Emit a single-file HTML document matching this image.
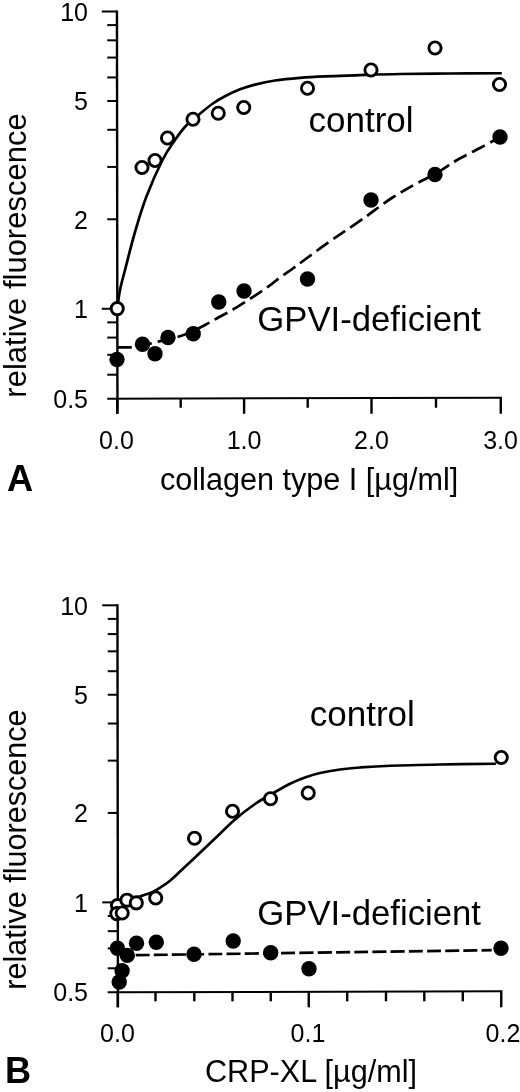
<!DOCTYPE html>
<html><head><meta charset="utf-8"><title>Figure</title>
<style>html,body{margin:0;padding:0;background:#fff}svg{display:block;filter:blur(0.45px)}text{font-family:"Liberation Sans",Arial,Helvetica,sans-serif;fill:#000}</style>
</head><body>
<svg width="520" height="1092" viewBox="0 0 520 1092">
<rect width="520" height="1092" fill="#fff"/>
<g id="panelA">
<path d="M116.95,10.5 L117.45,413.75" stroke="#000" stroke-width="2.4" fill="none"/>
<path d="M107.25,398.7 L501.95,397.8" stroke="#000" stroke-width="2.0" fill="none"/>
<path d="M101.75,11.50 H117.25" stroke="#000" stroke-width="2.0"/>
<path d="M101.75,308.76 H117.25" stroke="#000" stroke-width="2.0"/>
<path d="M107.25,25.10 H117.25" stroke="#000" stroke-width="2.0"/>
<path d="M107.25,40.31 H117.25" stroke="#000" stroke-width="2.0"/>
<path d="M107.25,57.55 H117.25" stroke="#000" stroke-width="2.0"/>
<path d="M107.25,77.45 H117.25" stroke="#000" stroke-width="2.0"/>
<path d="M107.25,100.99 H117.25" stroke="#000" stroke-width="2.0"/>
<path d="M107.25,129.79 H117.25" stroke="#000" stroke-width="2.0"/>
<path d="M107.25,166.93 H117.25" stroke="#000" stroke-width="2.0"/>
<path d="M107.25,219.28 H117.25" stroke="#000" stroke-width="2.0"/>
<path d="M107.25,322.37 H117.25" stroke="#000" stroke-width="2.0"/>
<path d="M107.25,337.57 H117.25" stroke="#000" stroke-width="2.0"/>
<path d="M107.25,354.81 H117.25" stroke="#000" stroke-width="2.0"/>
<path d="M107.25,374.71 H117.25" stroke="#000" stroke-width="2.0"/>
<path d="M117.25,398.25 V413.75" stroke="#000" stroke-width="2.4"/>
<path d="M244.1,398.25 V413.75" stroke="#000" stroke-width="2.4"/>
<path d="M371.5,398.25 V413.75" stroke="#000" stroke-width="2.4"/>
<path d="M500.75,398.25 V413.75" stroke="#000" stroke-width="2.4"/>
<path d="M180.7,398.25 V407.75" stroke="#000" stroke-width="2.4"/>
<path d="M307.7,398.25 V407.75" stroke="#000" stroke-width="2.4"/>
<path d="M436,398.25 V407.75" stroke="#000" stroke-width="2.4"/>
<text x="88" y="20.80" font-size="25" text-anchor="end">10</text>
<text x="88" y="110.29" font-size="25" text-anchor="end">5</text>
<text x="88" y="228.58" font-size="25" text-anchor="end">2</text>
<text x="88" y="318.06" font-size="25" text-anchor="end">1</text>
<text x="88" y="407.55" font-size="25" text-anchor="end">0.5</text>
<text x="116.5" y="448.85" font-size="25" text-anchor="middle">0.0</text>
<text x="244.1" y="448.85" font-size="25" text-anchor="middle">1.0</text>
<text x="371.5" y="448.85" font-size="25" text-anchor="middle">2.0</text>
<text x="500.6" y="448.85" font-size="25" text-anchor="middle">3.0</text>
<path d="M117.25,308.75 C117.71,305.62 118.71,296.46 120,290 C121.29,283.54 122.50,279.67 125,270 C127.50,260.33 131.46,244.17 135,232 C138.54,219.83 141.67,209.00 146.25,197 C150.83,185.00 157.71,169.50 162.5,160 C167.29,150.50 171.04,145.75 175,140 C178.96,134.25 182.08,129.88 186.25,125.5 C190.42,121.12 195.62,117.38 200,113.75 C204.38,110.12 208.33,106.67 212.5,103.75 C216.67,100.83 220.42,98.66 225,96.25 C229.58,93.84 235.00,91.24 240,89.3 C245.00,87.36 249.17,86.07 255,84.6 C260.83,83.13 267.50,81.63 275,80.5 C282.50,79.37 291.67,78.50 300,77.8 C308.33,77.10 315.83,76.72 325,76.3 C334.17,75.88 342.50,75.68 355,75.3 C367.50,74.92 384.17,74.30 400,74 C415.83,73.70 433.21,73.62 450,73.5 C466.79,73.38 492.29,73.29 500.75,73.25" stroke="#000" stroke-width="2.7" fill="none" stroke-linecap="round"/>
<path d="M117.25,347.3 C119.54,347.30 126.79,347.65 131,347.3 C135.21,346.95 138.50,346.00 142.5,345.2 C146.50,344.40 150.75,343.53 155,342.5 C159.25,341.47 163.83,340.04 168,339 C172.17,337.96 175.92,337.54 180,336.25 C184.08,334.96 188.33,333.12 192.5,331.25 C196.67,329.38 200.83,327.21 205,325 C209.17,322.79 213.33,320.28 217.5,318 C221.67,315.72 225.83,313.68 230,311.3 C234.17,308.92 238.33,306.30 242.5,303.7 C246.67,301.10 250.83,298.45 255,295.7 C259.17,292.95 263.33,290.23 267.5,287.2 C271.67,284.17 275.83,280.57 280,277.5 C284.17,274.43 288.33,271.75 292.5,268.75 C296.67,265.75 298.82,264.04 305,259.5 C311.18,254.96 322.43,246.58 329.6,241.5 C336.77,236.42 341.85,233.20 348,229 C354.15,224.80 361.17,220.09 366.5,216.3 C371.83,212.51 375.67,209.38 380,206.25 C384.33,203.12 388.33,200.21 392.5,197.5 C396.67,194.79 400.83,192.42 405,190 C409.17,187.58 412.42,185.71 417.5,183 C422.58,180.29 429.25,177.38 435.5,173.75 C441.75,170.12 449.67,164.46 455,161.25 C460.33,158.04 463.33,156.71 467.5,154.5 C471.67,152.29 475.83,150.21 480,148 C484.17,145.79 489.17,143.08 492.5,141.25 C495.83,139.42 498.75,137.71 500,137" stroke="#000" stroke-width="2.7" fill="none" stroke-dasharray="14.5 6"/>
<circle cx="117" cy="359.5" r="7.7" fill="#000"/>
<circle cx="142.5" cy="344.25" r="7.7" fill="#000"/>
<circle cx="155" cy="353.75" r="7.7" fill="#000"/>
<circle cx="168" cy="337.5" r="7.7" fill="#000"/>
<circle cx="193.25" cy="333.75" r="7.7" fill="#000"/>
<circle cx="218.75" cy="302" r="7.7" fill="#000"/>
<circle cx="244" cy="291" r="7.7" fill="#000"/>
<circle cx="307.5" cy="279" r="7.7" fill="#000"/>
<circle cx="371" cy="200" r="7.7" fill="#000"/>
<circle cx="435" cy="174.5" r="7.7" fill="#000"/>
<circle cx="500" cy="137" r="7.7" fill="#000"/>
<circle cx="142" cy="167.5" r="6.1" fill="#fff" stroke="#000" stroke-width="2.9"/>
<circle cx="155" cy="160.5" r="6.1" fill="#fff" stroke="#000" stroke-width="2.9"/>
<circle cx="167.5" cy="138" r="6.1" fill="#fff" stroke="#000" stroke-width="2.9"/>
<circle cx="193" cy="119.25" r="6.1" fill="#fff" stroke="#000" stroke-width="2.9"/>
<circle cx="218.25" cy="113.25" r="6.1" fill="#fff" stroke="#000" stroke-width="2.9"/>
<circle cx="243.75" cy="107.5" r="6.1" fill="#fff" stroke="#000" stroke-width="2.9"/>
<circle cx="307.5" cy="88.25" r="6.1" fill="#fff" stroke="#000" stroke-width="2.9"/>
<circle cx="371" cy="70" r="6.1" fill="#fff" stroke="#000" stroke-width="2.9"/>
<circle cx="435" cy="48" r="6.1" fill="#fff" stroke="#000" stroke-width="2.9"/>
<circle cx="499.5" cy="84.5" r="6.1" fill="#fff" stroke="#000" stroke-width="2.9"/>
<circle cx="117.25" cy="308.6" r="6.1" fill="#fff" stroke="#000" stroke-width="2.9"/>
<text transform="translate(26.2,255.5) rotate(-90)" font-size="31" text-anchor="middle">relative fluorescence</text>
<text x="7" y="491.25" font-size="36.2" font-weight="bold">A</text>
<text x="160" y="490.05" font-size="30.6">collagen type I [µg/ml]</text>
<text x="308.5" y="131.9" font-size="35">control</text>
<text x="257.3" y="331" font-size="34.7">GPVI-deficient</text>
</g>
<g id="panelB">
<path d="M117.45,604.3 L117.95,1007.3" stroke="#000" stroke-width="2.4" fill="none"/>
<path d="M107.75,992.25 L502.45,991.3499999999999" stroke="#000" stroke-width="2.0" fill="none"/>
<path d="M102.25,605.30 H117.75" stroke="#000" stroke-width="2.0"/>
<path d="M102.25,902.37 H117.75" stroke="#000" stroke-width="2.0"/>
<path d="M107.75,618.89 H117.75" stroke="#000" stroke-width="2.0"/>
<path d="M107.75,634.09 H117.75" stroke="#000" stroke-width="2.0"/>
<path d="M107.75,651.32 H117.75" stroke="#000" stroke-width="2.0"/>
<path d="M107.75,671.21 H117.75" stroke="#000" stroke-width="2.0"/>
<path d="M107.75,694.73 H117.75" stroke="#000" stroke-width="2.0"/>
<path d="M107.75,723.52 H117.75" stroke="#000" stroke-width="2.0"/>
<path d="M107.75,760.63 H117.75" stroke="#000" stroke-width="2.0"/>
<path d="M107.75,812.94 H117.75" stroke="#000" stroke-width="2.0"/>
<path d="M107.75,915.97 H117.75" stroke="#000" stroke-width="2.0"/>
<path d="M107.75,931.16 H117.75" stroke="#000" stroke-width="2.0"/>
<path d="M107.75,948.39 H117.75" stroke="#000" stroke-width="2.0"/>
<path d="M107.75,968.28 H117.75" stroke="#000" stroke-width="2.0"/>
<path d="M117.75,991.8 V1007.3" stroke="#000" stroke-width="2.4"/>
<path d="M308.75,991.8 V1007.3" stroke="#000" stroke-width="2.4"/>
<path d="M501.25,991.8 V1007.3" stroke="#000" stroke-width="2.4"/>
<path d="M155.5,991.8 V1001.3" stroke="#000" stroke-width="2.4"/>
<path d="M194.3,991.8 V1001.3" stroke="#000" stroke-width="2.4"/>
<path d="M232.5,991.8 V1001.3" stroke="#000" stroke-width="2.4"/>
<path d="M270.75,991.8 V1001.3" stroke="#000" stroke-width="2.4"/>
<path d="M347.2,991.8 V1001.3" stroke="#000" stroke-width="2.4"/>
<path d="M386,991.8 V1001.3" stroke="#000" stroke-width="2.4"/>
<path d="M424.3,991.8 V1001.3" stroke="#000" stroke-width="2.4"/>
<path d="M462.8,991.8 V1001.3" stroke="#000" stroke-width="2.4"/>
<text x="88" y="614.60" font-size="25" text-anchor="end">10</text>
<text x="88" y="704.03" font-size="25" text-anchor="end">5</text>
<text x="88" y="822.24" font-size="25" text-anchor="end">2</text>
<text x="88" y="911.67" font-size="25" text-anchor="end">1</text>
<text x="88" y="1001.10" font-size="25" text-anchor="end">0.5</text>
<text x="117.5" y="1042.3999999999999" font-size="25" text-anchor="middle">0.0</text>
<text x="308" y="1042.3999999999999" font-size="25" text-anchor="middle">0.1</text>
<text x="503" y="1042.3999999999999" font-size="25" text-anchor="middle">0.2</text>
<path d="M117.75,905 C118.79,904.42 121.69,902.53 124,901.5 C126.31,900.47 128.87,899.65 131.6,898.8 C134.33,897.95 137.82,897.18 140.4,896.4 C142.98,895.62 144.87,894.93 147.1,894.1 C149.33,893.27 151.55,892.52 153.8,891.4 C156.05,890.28 157.90,889.18 160.6,887.4 C163.30,885.62 166.77,883.35 170,880.7 C173.23,878.05 175.83,875.37 180,871.5 C184.17,867.63 189.17,863.00 195,857.5 C200.83,852.00 208.33,844.83 215,838.5 C221.67,832.17 228.33,825.25 235,819.5 C241.67,813.75 249.17,808.08 255,804 C260.83,799.92 264.17,798.38 270,795 C275.83,791.62 284.17,786.67 290,783.75 C295.83,780.83 300.00,779.29 305,777.5 C310.00,775.71 314.17,774.33 320,773 C325.83,771.67 333.33,770.42 340,769.5 C346.67,768.58 351.67,768.12 360,767.5 C368.33,766.88 376.67,766.25 390,765.75 C403.33,765.25 422.50,764.83 440,764.5 C457.50,764.17 485.83,763.88 495,763.75" stroke="#000" stroke-width="2.7" fill="none" stroke-linecap="round"/>
<path d="M135.7,955.2 C195.03,954.37 432.37,951.03 491.7,950.2" stroke="#000" stroke-width="2.7" fill="none" stroke-dasharray="14 4.2"/>
<circle cx="117.4" cy="948.2" r="7.7" fill="#000"/>
<circle cx="127.3" cy="955.4" r="7.7" fill="#000"/>
<circle cx="136.5" cy="943.3" r="7.7" fill="#000"/>
<circle cx="156.3" cy="942.2" r="7.7" fill="#000"/>
<circle cx="194" cy="954.2" r="7.7" fill="#000"/>
<circle cx="233.2" cy="941" r="7.7" fill="#000"/>
<circle cx="270.7" cy="952.8" r="7.7" fill="#000"/>
<circle cx="309" cy="968.8" r="7.7" fill="#000"/>
<circle cx="122.1" cy="970.7" r="7.7" fill="#000"/>
<circle cx="119.2" cy="982" r="7.7" fill="#000"/>
<circle cx="501" cy="948.2" r="7.7" fill="#000"/>
<circle cx="117.5" cy="905.6" r="6.1" fill="#fff" stroke="#000" stroke-width="2.9"/>
<circle cx="116.8" cy="913.6" r="6.1" fill="#fff" stroke="#000" stroke-width="2.9"/>
<circle cx="122.2" cy="913" r="6.1" fill="#fff" stroke="#000" stroke-width="2.9"/>
<circle cx="126.9" cy="900.2" r="6.1" fill="#fff" stroke="#000" stroke-width="2.9"/>
<circle cx="136.3" cy="902.9" r="6.1" fill="#fff" stroke="#000" stroke-width="2.9"/>
<circle cx="155.7" cy="898" r="6.1" fill="#fff" stroke="#000" stroke-width="2.9"/>
<circle cx="194.5" cy="838.25" r="6.1" fill="#fff" stroke="#000" stroke-width="2.9"/>
<circle cx="232.5" cy="811.25" r="6.1" fill="#fff" stroke="#000" stroke-width="2.9"/>
<circle cx="270.5" cy="798.75" r="6.1" fill="#fff" stroke="#000" stroke-width="2.9"/>
<circle cx="308.25" cy="793" r="6.1" fill="#fff" stroke="#000" stroke-width="2.9"/>
<circle cx="501.25" cy="757.5" r="6.1" fill="#fff" stroke="#000" stroke-width="2.9"/>
<text transform="translate(26.2,849.6) rotate(-90)" font-size="31" text-anchor="middle" textLength="280.2" lengthAdjust="spacingAndGlyphs">relative fluorescence</text>
<text x="5" y="1082.8" font-size="36.2" font-weight="bold">B</text>
<text x="205" y="1082.0" font-size="30.6">CRP-XL [µg/ml]</text>
<text x="309.8" y="726.25" font-size="35">control</text>
<text x="257.3" y="925" font-size="34.7">GPVI-deficient</text>
</g>
</svg>
</body></html>
